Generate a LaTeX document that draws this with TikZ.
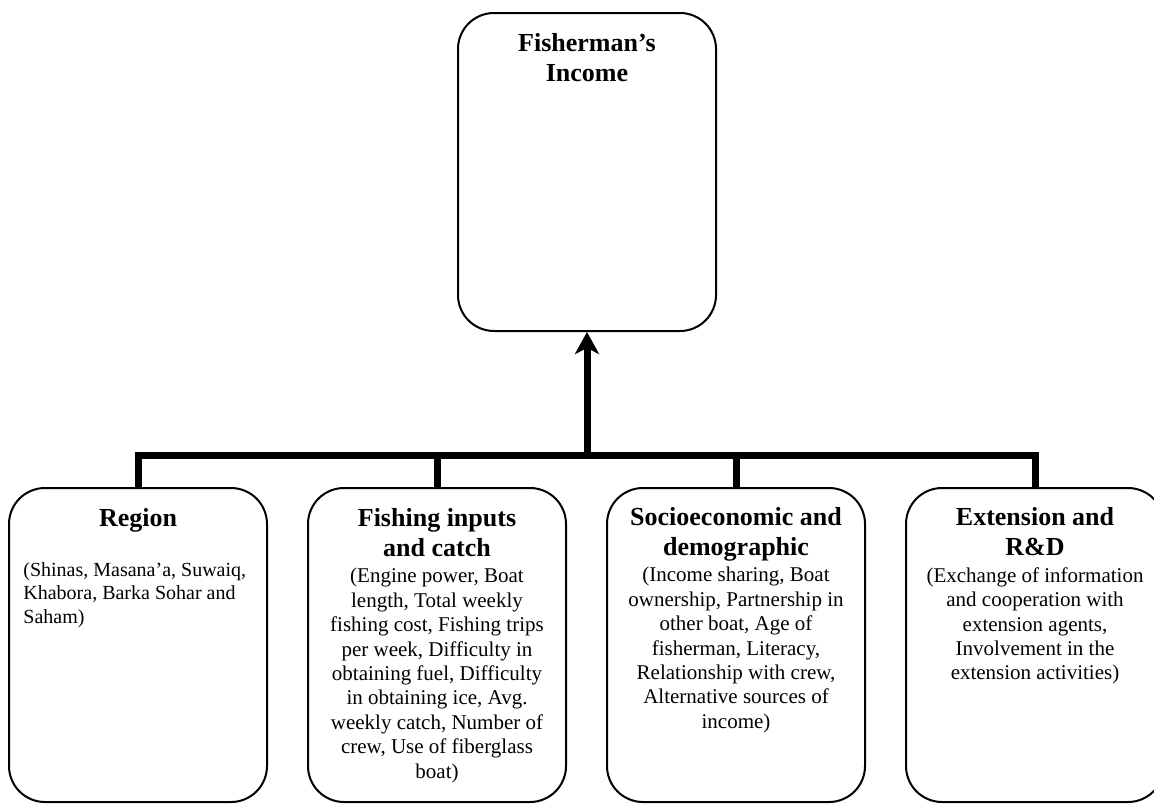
\documentclass[tikz,border=0pt]{standalone}
\usepackage{fontspec}
\setmainfont{Liberation Serif}
\usetikzlibrary{arrows.meta,positioning}

\tikzstyle{factor} = [draw, line width=1pt, rounded corners=18pt, minimum width=129pt, minimum height=157pt, inner sep=0pt]
\tikzstyle{heading} = [font=\fontsize{13}{15}\selectfont\bfseries, align=center, inner sep=0pt]
\tikzstyle{detail} = [font=\fontsize{10.5}{12.2}\selectfont, align=center, inner sep=0pt]
\tikzstyle{wire} = [draw, line width=3.5pt, line join=miter]

\begin{document}
\begin{tikzpicture}[x=0.5pt, y=-0.5pt]

  \useasboundingbox (0,0) rectangle (1154,803);

  % The outcome on top
  \node[factor, minimum height=159pt] (income) at (587,172) {};
  \node[heading, below=10.7pt of income.north] (income title) {Fisherman's\\Income};

  % The factor boxes
  \node[factor] (region) at (138,645) {};
  \node[factor] (inputs) at (437,645) {};
  \node[factor] (socio) at (736,645) {};
  \node[factor] (extension) at (1035,645) {};

  \node[heading, below=10.7pt of region.north] (region title) {Region};
  \node[detail, font=\fontsize{10}{11.7}\selectfont, align=left,
        below right=37.6pt and 7.5pt of region.north west] (region text)
    {(Shinas, Masana'a, Suwaiq,\\Khabora, Barka Sohar and\\Saham)};

  \node[heading, below=10.7pt of inputs.north] (inputs title) {Fishing inputs\\and catch};
  \node[detail, below=40.5pt of inputs.north] (inputs text)
    {(Engine power, Boat\\length, Total weekly\\fishing cost, Fishing trips\\per week, Difficulty in\\obtaining fuel, Difficulty\\in obtaining ice, Avg.\\weekly catch, Number of\\crew, Use of fiberglass\\boat)};

  \node[heading, below=10pt of socio.north] (socio title) {Socioeconomic and\\demographic};
  \node[detail, below=40pt of socio.north] (socio text)
    {(Income sharing, Boat\\ownership, Partnership in\\other boat, Age of\\fisherman, Literacy,\\Relationship with crew,\\Alternative sources of\\income)};

  \node[heading, below=10pt of extension.north] (extension title) {Extension and\\R\&D};
  \node[detail, below=40pt of extension.north] (extension text)
    {(Exchange of information\\and cooperation with\\extension agents,\\Involvement in the\\extension activities)};

  % The connections between them
  \coordinate (hub) at (587,455);
  \draw[wire] (region.north) |- (hub) -| (extension.north);
  \foreach \name in {inputs, socio}
    \draw[wire] (\name.north) -- (\name.north |- hub);
  \draw[wire, -{Stealth[length=11pt, width=12pt, inset=3pt]}] (hub) -- (income.south);

\end{tikzpicture}
\end{document}
